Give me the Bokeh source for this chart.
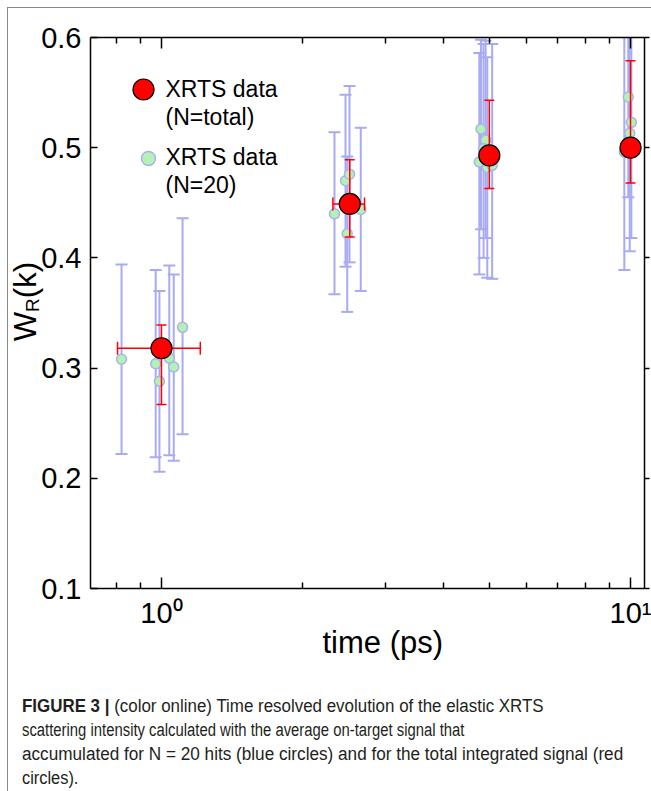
import math
from bokeh.plotting import figure
from bokeh.models import ColumnDataSource, FixedTicker, LogAxis, LinearAxis, Label, Div, Range1d, Title
from bokeh.layouts import column, row
from bokeh.embed import file_html
from bokeh.resources import INLINE

# ---------------- data ----------------
red_time = [1.0, 2.52, 5.0, 10.0]
red_wr = [0.318, 0.449, 0.493, 0.500]
red_wr_low = [0.267, 0.419, 0.463, 0.468]
red_wr_high = [0.339, 0.489, 0.543, 0.579]
red_time_low = [0.806, 2.32, 5.0, 10.0]
red_time_high = [1.21, 2.71, 5.0, 10.0]

n20_time = [0.822, 0.972, 0.990, 1.039, 1.062, 1.109,
            2.338, 2.468, 2.517, 2.489, 2.66,
            4.80, 4.91, 4.86, 4.76, 4.95, 5.07,
            9.89, 10.04, 9.96, 9.70]
n20_wr = [0.308, 0.304, 0.288, 0.309, 0.301, 0.337,
          0.440, 0.470, 0.476, 0.422, 0.444,
          0.517, 0.507, 0.499, 0.487, 0.482, 0.484,
          0.546, 0.523, 0.513, 0.496]
n20_wr_low = [0.222, 0.219, 0.206, 0.221, 0.216, 0.240,
              0.367, 0.392, 0.396, 0.351, 0.370,
              0.426, 0.418, 0.400, 0.385, 0.382, 0.381,
              0.455, 0.418, 0.406, 0.389]
n20_wr_high = [0.394, 0.389, 0.370, 0.393, 0.385, 0.436,
               0.514, 0.548, 0.556, 0.492, 0.518,
               0.598, 0.597, 0.594, 0.586, 0.582, 0.594,
               0.637, 0.628, 0.620, 0.603]

x_major_ticks = [1, 10]
x_minor_ticks = [0.8, 0.9, 2, 3, 4, 5, 6, 7, 8, 9]
x_tick_labels = {1: "10\u2070", 10: "10\u00b9"}
y_ticks = [0.1, 0.2, 0.3, 0.4, 0.5, 0.6]
legend_labels = [["XRTS data", "(N=total)"], ["XRTS data", "(N=20)"]]
x_title = "time (ps)"
y_title = ("W", "R", "(k)")
caption_bold = "FIGURE 3 |"
caption_lines = [
    " (color online) Time resolved evolution of the elastic XRTS",
    "scattering intensity calculated with the average on-target signal that",
    "accumulated for N = 20 hits (blue circles) and for the total integrated signal (red",
    "circles).",
]

# ---------------- styles ----------------
FONT = "Liberation Sans"
RED = "#ff0000"
BLUE_BAR = "#a8aaf4"
GREEN_FILL = "#b2f2b4"
GREEN_LINE = "#aeb0ee"
X_START, X_END = 0.7058, 10.71
Y_START, Y_END = 0.1, 0.6
FRAME_L, FRAME_T = 90, 37          # page px of frame corner
DEC_PX = 554 / math.log10(X_END / X_START)
Y_PX = 551 / (Y_END - Y_START)
CAPTION_SCALES = [0.94, 0.825, 0.953, 0.91]


def px_x(px):
    return 10 ** (math.log10(X_START) + (px - FRAME_L) / DEC_PX)


def px_y(py):
    return Y_END - (py - FRAME_T) / Y_PX


p = figure(width=613, height=662, x_axis_type="log",
           x_range=Range1d(X_START, X_END), y_range=Range1d(Y_START, Y_END),
           output_backend="svg", toolbar_location=None,
           min_border_left=52, min_border_right=7, min_border_top=29, min_border_bottom=82,
           outline_line_color=None, background_fill_color="white", border_fill_color=None)
p.grid.visible = False

xt = FixedTicker(ticks=x_major_ticks, minor_ticks=x_minor_ticks)
yt = FixedTicker(ticks=y_ticks, minor_ticks=[])

xa = p.xaxis[0]
xa.ticker = xt
xa.major_label_overrides = x_tick_labels
xa.major_label_text_font = FONT
xa.major_label_text_font_size = "29px"
xa.major_label_text_color = "black"
xa.major_label_standoff = 8
xa.major_tick_in = 11
xa.major_tick_out = 0
xa.minor_tick_in = 6
xa.minor_tick_out = 0
xa.axis_line_width = 1.5
xa.major_tick_line_width = 1.5
xa.minor_tick_line_width = 1.5

ya = p.yaxis[0]
ya.ticker = yt
ya.major_label_text_font = FONT
ya.major_label_text_font_size = "29px"
ya.major_label_text_color = "black"
ya.major_label_standoff = 9
ya.major_tick_in = 7
ya.major_tick_out = 0
ya.minor_tick_line_color = None
ya.axis_line_width = 1.5
ya.major_tick_line_width = 1.5

top = LogAxis(ticker=xt, major_label_text_font_size="1px", major_label_text_color=None,
              major_label_standoff=0,
              major_tick_in=11, major_tick_out=0, minor_tick_in=6, minor_tick_out=0,
              axis_line_width=1.5, major_tick_line_width=1.5, minor_tick_line_width=1.5)
p.add_layout(top, "above")
right = LinearAxis(ticker=yt, major_label_text_font_size="1px", major_label_text_color=None,
                   major_label_standoff=0,
                   major_tick_in=0, major_tick_out=5, minor_tick_line_color=None,
                   axis_line_width=1.5, major_tick_line_width=1.5)
p.add_layout(right, "right")

p.add_layout(Title(text=x_title, align="left", offset=232, standoff=-18,
                   text_font=FONT, text_font_size="31px", text_font_style="normal",
                   text_color="black"), "below")

# ---------------- N=20 points ----------------
g_src = ColumnDataSource(dict(t=n20_time, w=n20_wr, lo=n20_wr_low, hi=n20_wr_high))
p.segment(x0="t", y0="lo", x1="t", y1="hi", source=g_src, line_color=BLUE_BAR, line_width=2)
p.scatter(x="t", y="lo", source=g_src, marker="dash", size=12, line_color=BLUE_BAR, line_width=2)
p.scatter(x="t", y="hi", source=g_src, marker="dash", size=12, line_color=BLUE_BAR, line_width=2)
p.scatter(x="t", y="w", source=g_src, marker="circle", size=10,
          fill_color=GREEN_FILL, line_color=GREEN_LINE, line_width=1.5)

# ---------------- N=total points ----------------
r_src = ColumnDataSource(dict(t=red_time, w=red_wr, lo=red_wr_low, hi=red_wr_high,
                              tlo=red_time_low, thi=red_time_high))
p.segment(x0="t", y0="lo", x1="t", y1="hi", source=r_src, line_color=RED, line_width=1.5)
p.scatter(x="t", y="lo", source=r_src, marker="dash", size=10, line_color=RED, line_width=1.5)
p.scatter(x="t", y="hi", source=r_src, marker="dash", size=10, line_color=RED, line_width=1.5)
p.segment(x0="tlo", y0="w", x1="thi", y1="w", source=r_src, line_color=RED, line_width=1.5)
p.scatter(x="tlo", y="w", source=r_src, marker="dash", angle=math.pi / 2, size=13,
          line_color=RED, line_width=1.5)
p.scatter(x="thi", y="w", source=r_src, marker="dash", angle=math.pi / 2, size=13,
          line_color=RED, line_width=1.5)
p.scatter(x="t", y="w", source=r_src, marker="circle", size=21,
          fill_color=RED, line_color="black", line_width=1.2)


def page_label(text, px, py, size, align="left", baseline="middle"):
    p.add_layout(Label(x=X_START, y=Y_END, x_offset=px - FRAME_L, y_offset=-(py - FRAME_T),
                       text=text, text_font=FONT, text_font_size=size, text_color="black",
                       text_align=align, text_baseline=baseline))


# ---------------- legend ----------------
p.scatter(x=[px_x(143)], y=[px_y(89)], marker="circle", size=21,
          fill_color=RED, line_color="black", line_width=1.2)
p.scatter(x=[px_x(148)], y=[px_y(158)], marker="circle", size=14,
          fill_color=GREEN_FILL, line_color=GREEN_LINE, line_width=1.5)
page_label(legend_labels[0][0], 165, 88, "23px")
page_label(legend_labels[0][1], 165, 116, "23px")
page_label(legend_labels[1][0], 165, 156, "23px")
page_label(legend_labels[1][1], 165, 184, "23px")

# ---------------- y title (rotated html text) ----------------
ydiv = Div(
    text=('<div style="writing-mode:vertical-rl; transform:rotate(180deg); '
          'font-family:\'Liberation Sans\',Arial,sans-serif; font-size:31px; line-height:31px; '
          'color:black; white-space:nowrap; margin-top:254px; margin-left:2px;">'
          + y_title[0] + '<sub style="font-size:19px; line-height:0;">' + y_title[1] + '</sub>'
          + y_title[2] + '</div>'),
    width=30, height=662, margin=0)

line_htmls = ['<b>' + caption_bold + '</b>' + caption_lines[0]] + caption_lines[1:]
caption_html = (
    '<div style="padding:24px 0 0 14px; font-family:\'Liberation Sans\',Arial,sans-serif; '
    'font-size:18px; color:#231f20;">'
    + ''.join('<div style="white-space:nowrap; height:24.1px; line-height:24.1px; '
              'transform:scaleX(%s); transform-origin:0 50%%;">%s</div>' % (s, t)
              for s, t in zip(CAPTION_SCALES, line_htmls))
    + '</div>'
)
cap = Div(text=caption_html, width=643, height=121, margin=0)

layout = column(row(ydiv, p), cap,
                styles={"margin": "7px 0 0 7px", "border-left": "1px solid #8a8a8a",
                        "border-top": "1px solid #8a8a8a"})

open("out.html", "w").write(file_html(layout, INLINE))
